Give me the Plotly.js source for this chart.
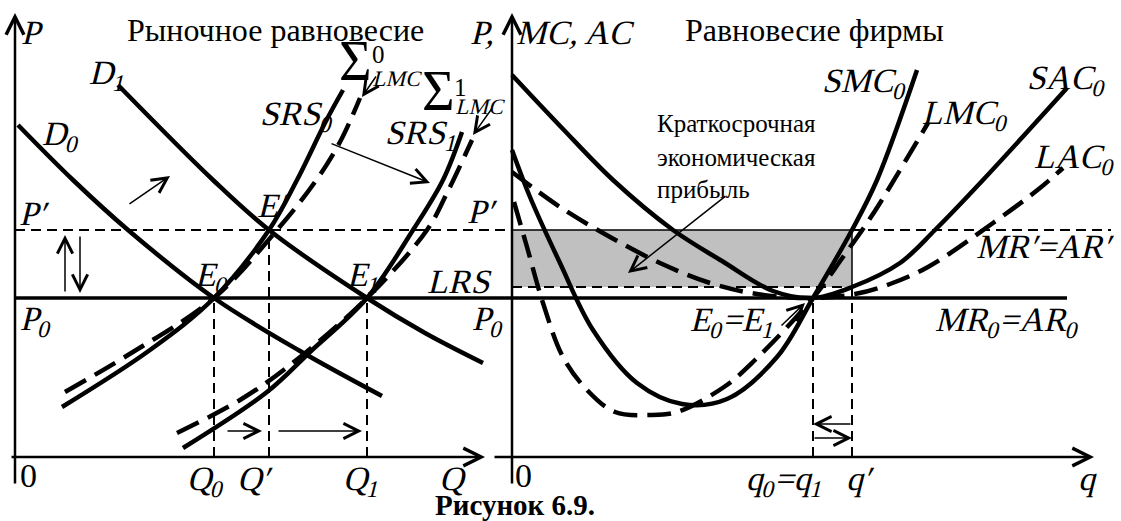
<!DOCTYPE html>
<html>
<head>
<meta charset="utf-8">
<script src="https://cdn.plot.ly/plotly-3.0.1.min.js"></script>
<style>
  html, body { margin: 0; padding: 0; background: #fff; }
  #chart { width: 1121px; height: 521px; }
</style>
</head>
<body>
<div id="chart"></div>
<script>
// ---- Market (left panel): price levels and quantities ----
const P0 = 15.9;        // initial / long-run price
const PPrime = 22.7;    // short-run price after demand shift
const Q0 = 19.9, QPrime = 25.4, Q1 = 35.2;

// Demand curves
const D0Q = [0.3, 5.8, 11.3, 19.9, 28.5, 36.7];
const D0P = [33.2, 27.7, 22.7, 15.9, 10.6, 6.1];
const D1Q = [10.3, 19.8, 25.4, 35.2, 41.0, 46.8];
const D1P = [37.2, 27.7, 22.7, 15.9, 12.4, 9.4];

// Short-run supply and summed LMC curves
const SRS0Q = [4.7, 13.5, 19.9, 25.4, 28.2, 31.1, 32.8];
const SRS0P = [5.0, 10.7, 15.9, 22.7, 27.7, 33.6, 36.7];
const SumLMC0Q = [5.0, 11.3, 19.9, 26.2, 30.0, 32.5, 34.5];
const SumLMC0P = [6.5, 10.2, 15.9, 22.7, 27.5, 31.5, 35.9];
const SRS1Q = [16.8, 25.2, 29.5, 35.2, 39.8, 42.8, 44.7];
const SRS1P = [0.9, 6.5, 10.5, 15.9, 22.7, 27.7, 32.5];
const SumLMC1Q = [16.2, 22.5, 27.5, 35.2, 41.2, 43.2, 45.7];
const SumLMC1P = [2.4, 5.7, 9.2, 15.9, 22.7, 26.4, 31.7];

// ---- Firm (right panel) ----
const q0 = 30.1, qPrime = 34.0, acAtQPrime = 17.0;

const SAC0q = [0, 5.0, 10.1, 16.1, 21.0, 26.1, 30.1, 34.0, 38.8, 42.3, 47.1, 55.5];
const SAC0P = [38.2, 32.9, 27.7, 22.7, 19.6, 16.6, 15.9, 17.0, 19.4, 22.7, 27.7, 36.9];
const LAC0q = [0, 4.8, 9.8, 14.8, 19.8, 24.5, 30.1, 34.3, 37.8, 41.6, 48.1, 52.8, 55.1];
const LAC0P = [28.5, 25.0, 22.0, 19.4, 17.4, 16.3, 15.9, 16.3, 17.3, 19.0, 23.4, 26.9, 28.9];
const SMC0q = [0, 1.8, 4.8, 8.1, 12.5, 17.0, 21.5, 26.5, 30.1, 34.0, 36.5, 40.5];
const SMC0P = [30.7, 26.0, 19.4, 12.7, 7.4, 5.3, 5.8, 10.0, 15.9, 22.7, 27.7, 38.7];
const LMC0q = [0.2, 1.5, 3.1, 5.1, 7.5, 10.3, 13.8, 16.5, 21.2, 24.3, 30.1, 33.1, 35.5, 36.8, 41.6];
const LMC0P = [25.5, 21.0, 15.4, 10.0, 6.7, 4.5, 4.2, 4.5, 7.0, 9.7, 15.9, 20.0, 23.4, 25.4, 33.4];

// Axis extents (data units)
const leftQMax = 47.0, leftLineEnd = 49.6;
const rightQMax = 58.2, mrLineEnd = 55.5, prLineEnd = 59.9;
const axisTop = 44.4, axisBottom = -2.8;

const BLACK = '#000';
const FONT = 'Liberation Serif';
const thick = 4.5, dashCurve = '24px,10px', dashGuide = '10px,6px';

function line(xs, ys, opts) {
  const o = opts || {};
  return {
    type: 'scatter', mode: 'lines', x: xs, y: ys,
    xaxis: o.x2 ? 'x2' : 'x', yaxis: 'y',
    line: { color: BLACK, width: o.width || thick, dash: o.dash || 'solid', shape: o.shape || 'linear' },
    hoverinfo: 'skip', showlegend: false
  };
}

const traces = [];

// Profit rectangle (firm panel)
traces.push({
  type: 'scatter', mode: 'lines', xaxis: 'x2', yaxis: 'y',
  x: [0, qPrime, qPrime, 0, 0],
  y: [acAtQPrime, acAtQPrime, PPrime, PPrime, acAtQPrime],
  fill: 'toself', fillcolor: '#c0c0c0', line: { width: 0, color: 'rgba(0,0,0,0)' },
  hoverinfo: 'skip', showlegend: false
});
traces.push(line([0, qPrime], [PPrime, PPrime], { x2: true, width: 1.5 }));
traces.push(line([qPrime, qPrime], [acAtQPrime, PPrime], { x2: true, width: 1.5 }));
traces.push(line([0, qPrime], [acAtQPrime, acAtQPrime], { x2: true, width: 2, dash: dashGuide }));
traces.push(line([qPrime, prLineEnd], [PPrime, PPrime], { x2: true, width: 2, dash: dashGuide }));

// Guide lines, market panel
traces.push(line([0, leftLineEnd], [PPrime, PPrime], { width: 2, dash: dashGuide }));
traces.push(line([Q0, Q0], [0, P0], { width: 2, dash: dashGuide }));
traces.push(line([QPrime, QPrime], [0, PPrime], { width: 2, dash: dashGuide }));
traces.push(line([Q1, Q1], [0, P0], { width: 2, dash: dashGuide }));
traces.push(line([0, leftLineEnd], [P0, P0], { width: 3.5 }));   // LRS

// Guide lines, firm panel
traces.push(line([q0, q0], [0, P0], { x2: true, width: 2, dash: dashGuide }));
traces.push(line([qPrime, qPrime], [0, acAtQPrime], { x2: true, width: 2, dash: dashGuide }));
traces.push(line([0, mrLineEnd], [P0, P0], { x2: true, width: 3.5 })); // MR0 = AR0

// Market curves
traces.push(line(D0Q, D0P, { shape: 'spline' }));
traces.push(line(D1Q, D1P, { shape: 'spline' }));
traces.push(line(SRS0Q, SRS0P, { shape: 'spline' }));
traces.push(line(SumLMC0Q, SumLMC0P, { shape: 'spline', dash: dashCurve }));
traces.push(line(SRS1Q, SRS1P, { shape: 'spline' }));
traces.push(line(SumLMC1Q, SumLMC1P, { shape: 'spline', dash: dashCurve }));

// Firm curves
traces.push(line(SAC0q, SAC0P, { x2: true, shape: 'spline' }));
traces.push(line(LAC0q, LAC0P, { x2: true, shape: 'spline', dash: dashCurve }));
traces.push(line(SMC0q, SMC0P, { x2: true, shape: 'spline' }));
traces.push(line(LMC0q, LMC0P, { x2: true, shape: 'spline', dash: dashCurve }));

// ---- Annotations ----
const ann = [];
const slanted = new Set();   // indices of labels set in slanted (italic) type
function label(panel, x, y, text, size, anchor, italic) {
  if (italic) slanted.add(ann.length);
  ann.push({
    xref: panel === 2 ? 'x2' : 'x', yref: 'y', x: x, y: y, text: text,
    showarrow: false, xanchor: anchor || 'left', yanchor: 'middle',
    font: { family: FONT, size: size || 34, color: BLACK }
  });
}
function math(panel, x, y, text, size, anchor) { label(panel, x, y, text, size, anchor, true); }
function arrow(panel, x, y, ax, ay, width, head, size) {
  const xr = panel === 2 ? 'x2' : 'x';
  ann.push({
    xref: xr, yref: 'y', axref: xr, ayref: 'y',
    x: x, y: y, ax: ax, ay: ay, text: '', showarrow: true,
    arrowhead: head || 5, arrowsize: size || 2, arrowwidth: width || 1.5,
    arrowcolor: BLACK, standoff: 0, startstandoff: 0
  });
}

// Axes with arrowheads
arrow(1, 0, axisTop, 0, axisBottom, 2.5, 5, 1.4);
arrow(1, leftQMax, 0, -0.5, 0, 2.5, 5, 1.4);
arrow(2, 0, axisTop, 0, axisBottom, 2.5, 5, 1.4);
arrow(2, rightQMax, 0, -1.9, 0, 2.5, 5, 1.4);

// Market panel arrows
arrow(1, 15.5, 28.1, 11.3, 25.2);
arrow(1, 41.5, 27.4, 31.5, 31.4);
arrow(1, 34.7, 36.0, 36.2, 38.2);
arrow(1, 45.8, 32.2, 47.8, 35.0);
arrow(1, 5.0, 22.2, 5.0, 16.4);
arrow(1, 6.5, 16.4, 6.5, 22.2);
arrow(1, 24.7, 2.6, 21.1, 2.6);
arrow(1, 34.7, 2.6, 26.2, 2.6);

// Firm panel arrows
arrow(2, 11.6, 18.4, 21.5, 26.2);
arrow(2, 29.3, 15.4, 26.8, 13.0);
arrow(2, q0, 3.3, qPrime, 3.3);
arrow(2, qPrime, 1.9, q0, 1.9);

// Market panel labels
math(1, 0.7, 42.5, 'P');
label(1, 26, 42.7, 'Рыночное равновесие', 32, 'center');
math(1, 7.4, 38.2, 'D<sub>1</sub>');
math(1, 2.7, 32.1, 'D<sub>0</sub>');
math(1, 24.5, 34.1, 'SRS<sub>0</sub>');
label(1, 34.0, 39.6, 'Σ', 56, 'center');
label(1, 36.3, 40.3, '0', 25, 'center');
math(1, 38.3, 37.9, 'LMC', 22, 'center');
label(1, 42.3, 36.6, 'Σ', 56, 'center');
label(1, 44.5, 37.0, '1', 25, 'center');
math(1, 46.6, 35.1, 'LMC', 22, 'center');
math(1, 37.0, 32.2, 'SRS<sub>1</sub>');
math(1, 0.5, 24.4, 'P′');
math(1, 0.5, 13.6, 'P<sub>0</sub>');
math(1, 24.3, 25.2, 'E′');
math(1, 18.0, 18.0, 'E<sub>0</sub>');
math(1, 33.2, 18.0, 'E<sub>1</sub>');
math(1, 41.3, 17.6, 'LRS');
math(1, 45.7, 13.6, 'P<sub>0</sub>');
math(1, 45.3, 24.6, 'P′');
label(1, 0.3, -1.8, '0');
math(1, 17.2, -2.4, 'Q<sub>0</sub>');
math(1, 22.3, -2.1, 'Q′');
math(1, 32.8, -2.4, 'Q<sub>1</sub>');
math(1, 42.5, -2.1, 'Q');

// Firm panel labels
math(2, -1.3, 42.5, 'P,', 34, 'right');
math(2, 0.5, 42.5, 'MC, AC');
label(2, 30.2, 42.7, 'Равновесие фирмы', 32, 'center');
math(2, 31.0, 37.4, 'SMC<sub>0</sub>');
math(2, 41.0, 34.2, 'LMC<sub>0</sub>');
math(2, 51.5, 37.7, 'SAC<sub>0</sub>');
math(2, 52.2, 29.8, 'LAC<sub>0</sub>');
label(2, 14.3, 33.4, 'Краткосрочная', 25);
label(2, 14.3, 30.0, 'экономическая', 25);
label(2, 14.3, 26.8, 'прибыль', 25);
math(2, 17.8, 13.5, 'E<sub>0</sub>=E<sub>1</sub>');
math(2, 46.5, 21.1, 'MR′=AR′');
math(2, 42.3, 13.5, 'MR<sub>0</sub>=AR<sub>0</sub>');
label(2, 0.1, -1.8, '0');
math(2, 23.4, -2.4, 'q<sub>0</sub>=q<sub>1</sub>');
math(2, 33.5, -2.1, 'q′');
math(2, 56.7, -2.1, 'q');

// Figure caption
label(1, 50, -4.8, '<b>Рисунок 6.9.</b>', 29, 'center');

const layout = {
  width: 1121, height: 521,
  margin: { l: 0, r: 0, t: 0, b: 0, pad: 0 },
  paper_bgcolor: '#fff', plot_bgcolor: 'rgba(0,0,0,0)',
  showlegend: false,
  xaxis: { range: [-1.5, 110.6], visible: false, fixedrange: true },
  xaxis2: { range: [-51.2, 60.9], visible: false, overlaying: 'x', anchor: 'y', fixedrange: true },
  yaxis: { range: [-6.4, 45.7], visible: false, fixedrange: true },
  annotations: ann
};

// Slant the math labels (serif oblique) after the annotations are laid out
function slantLabels() {
  document.querySelectorAll('#chart g.annotation').forEach(function (g) {
    const idx = +g.getAttribute('data-index');
    if (!slanted.has(idx)) return;
    const t = g.querySelector('text.annotation-text');
    if (!t) return;
    t.style.transformBox = 'fill-box';
    t.style.transformOrigin = 'center';
    t.style.transform = 'skewX(-14deg)';
  });
}

Plotly.newPlot('chart', traces, layout, { staticPlot: true, displayModeBar: false })
  .then(slantLabels);
</script>
</body>
</html>
